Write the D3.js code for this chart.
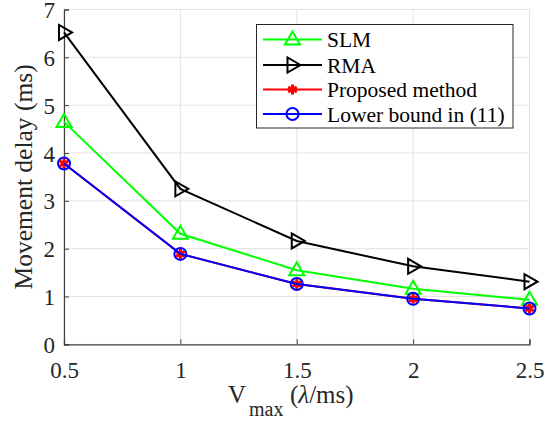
<!DOCTYPE html>
<html>
<head>
<meta charset="utf-8">
<script src="https://cdn.jsdelivr.net/npm/d3@7"></script>
<style>
  body { margin: 0; background: #fff; }
</style>
</head>
<body>
<svg id="chart" width="554" height="422"></svg>
<script>
// values
var vmax = [0.5, 1, 1.5, 2, 2.5];
var slm = [4.65, 2.31, 1.55, 1.16, 0.93];
var rma = [6.52, 3.25, 2.16, 1.63, 1.31];
var proposed = [3.78, 1.89, 1.26, 0.95, 0.75];
var lowerBound = [3.78, 1.89, 1.26, 0.95, 0.75];
var xTicks = [0.5, 1, 1.5, 2, 2.5];
var yTicks = [0, 1, 2, 3, 4, 5, 6, 7];

var series = [
  {name: "SLM", values: slm, color: "#00ff00", marker: "tri"},
  {name: "RMA", values: rma, color: "#000000", marker: "rtri"},
  {name: "Proposed method", values: proposed, color: "#ff0000", marker: "star"},
  {name: "Lower bound in (11)", values: lowerBound, color: "#0000ff", marker: "circle"}
];

var serif = "'Liberation Serif', 'Times New Roman', Times, serif";
var svg = d3.select("#chart").style("font-family", serif);
var plotL = 64, plotR = 529.5, plotT = 9.5, plotB = 344.3;

var x = d3.scaleLinear().domain([0.5, 2.5]).range([plotL, plotR]);
var y = d3.scaleLinear().domain([0, 7]).range([plotB, plotT]);

// grid
var grid = svg.append("g");
grid.selectAll(".gx").data(xTicks).enter().append("line")
  .attr("x1", function (d) { return x(d); }).attr("x2", function (d) { return x(d); })
  .attr("y1", plotT).attr("y2", plotB)
  .attr("stroke", "#e3e3e3").attr("stroke-width", 1);
grid.selectAll(".gy").data(yTicks).enter().append("line")
  .attr("x1", plotL).attr("x2", plotR)
  .attr("y1", function (d) { return y(d); }).attr("y2", function (d) { return y(d); })
  .attr("stroke", "#e3e3e3").attr("stroke-width", 1);

// axes
var xAxis = d3.axisBottom(x).tickValues(xTicks).tickSize(-5)
  .tickFormat(function (d) { return d; });
var gx = svg.append("g").attr("transform", "translate(0," + plotB + ")").call(xAxis);
var yAxis = d3.axisLeft(y).tickValues(yTicks).tickSize(-5).tickPadding(9)
  .tickFormat(d3.format("d"));
var gy = svg.append("g").attr("transform", "translate(" + plotL + ",0)").call(yAxis);

[gx, gy].forEach(function (g) {
  g.attr("font-family", null).attr("font-size", null);
  g.select(".domain").attr("stroke", "#404040").attr("stroke-width", 1.2);
  g.selectAll(".tick line").attr("stroke", "#404040");
  g.selectAll(".tick text").style("font-family", serif).style("font-size", "23px").attr("fill", "#262626");
});
gx.selectAll(".tick text").attr("y", 34).attr("dy", 0);
gy.selectAll(".tick text").attr("dy", "0.35em");

// axis labels
svg.append("text")
  .attr("transform", "translate(32," + ((plotT + plotB) / 2) + ") rotate(-90)")
  .attr("text-anchor", "middle").style("font-size", "25.5px").attr("fill", "#262626")
  .text("Movement delay (ms)");

var xl = svg.append("text").attr("y", 403)
  .style("font-size", "25px").attr("fill", "#262626");
xl.append("tspan").attr("x", 228).text("V");
xl.append("tspan").attr("x", 249).attr("y", 416).style("font-size", "20px").text("max");
xl.append("tspan").attr("x", 290).attr("y", 403).text("(");
xl.append("tspan").attr("font-style", "italic").text("λ");
xl.append("tspan").text("/ms)");

// markers
function drawMarker(g, type, color) {
  if (type === "tri") {
    g.append("path").attr("d", "M0,-8L7.5,5L-7.5,5Z")
      .attr("fill", "none").attr("stroke", color).attr("stroke-width", 2);
  } else if (type === "rtri") {
    g.append("path").attr("d", "M8,0L-5,-7.5L-5,7.5Z")
      .attr("fill", "none").attr("stroke", color).attr("stroke-width", 2);
  } else if (type === "star") {
    g.append("path").attr("d", d3.symbol().type(d3.symbolAsterisk).size(70)())
      .attr("fill", "none").attr("stroke", color).attr("stroke-width", 3);
  } else {
    g.append("circle").attr("r", 6)
      .attr("fill", "none").attr("stroke", color).attr("stroke-width", 2);
  }
}

var line = d3.line()
  .x(function (d, i) { return x(vmax[i]); })
  .y(function (d) { return y(d); });

series.forEach(function (s) {
  var g = svg.append("g");
  g.append("path").datum(s.values).attr("d", line)
    .attr("fill", "none").attr("stroke", s.color).attr("stroke-width", 2);
  s.values.forEach(function (v, i) {
    drawMarker(g.append("g").attr("transform", "translate(" + x(vmax[i]) + "," + y(v) + ")"), s.marker, s.color);
  });
});

// legend
var lg = svg.append("g");
lg.append("rect").attr("x", 256.5).attr("y", 24.5).attr("width", 256.5).attr("height", 103.5)
  .attr("fill", "#fff").attr("stroke", "#262626").attr("stroke-width", 1);
var rowY = [39.5, 65, 89.5, 114];
series.forEach(function (s, i) {
  var r = lg.append("g").attr("transform", "translate(0," + rowY[i] + ")");
  r.append("line").attr("x1", 263).attr("x2", 322).attr("y1", 0).attr("y2", 0)
    .attr("stroke", s.color).attr("stroke-width", 2);
  drawMarker(r.append("g").attr("transform", "translate(292.5,0)"), s.marker, s.color);
  r.append("text").attr("x", 327).attr("y", 0).attr("dy", "0.35em")
    .style("font-size", "21.5px").attr("fill", "#000").text(s.name);
});
</script>
</body>
</html>
